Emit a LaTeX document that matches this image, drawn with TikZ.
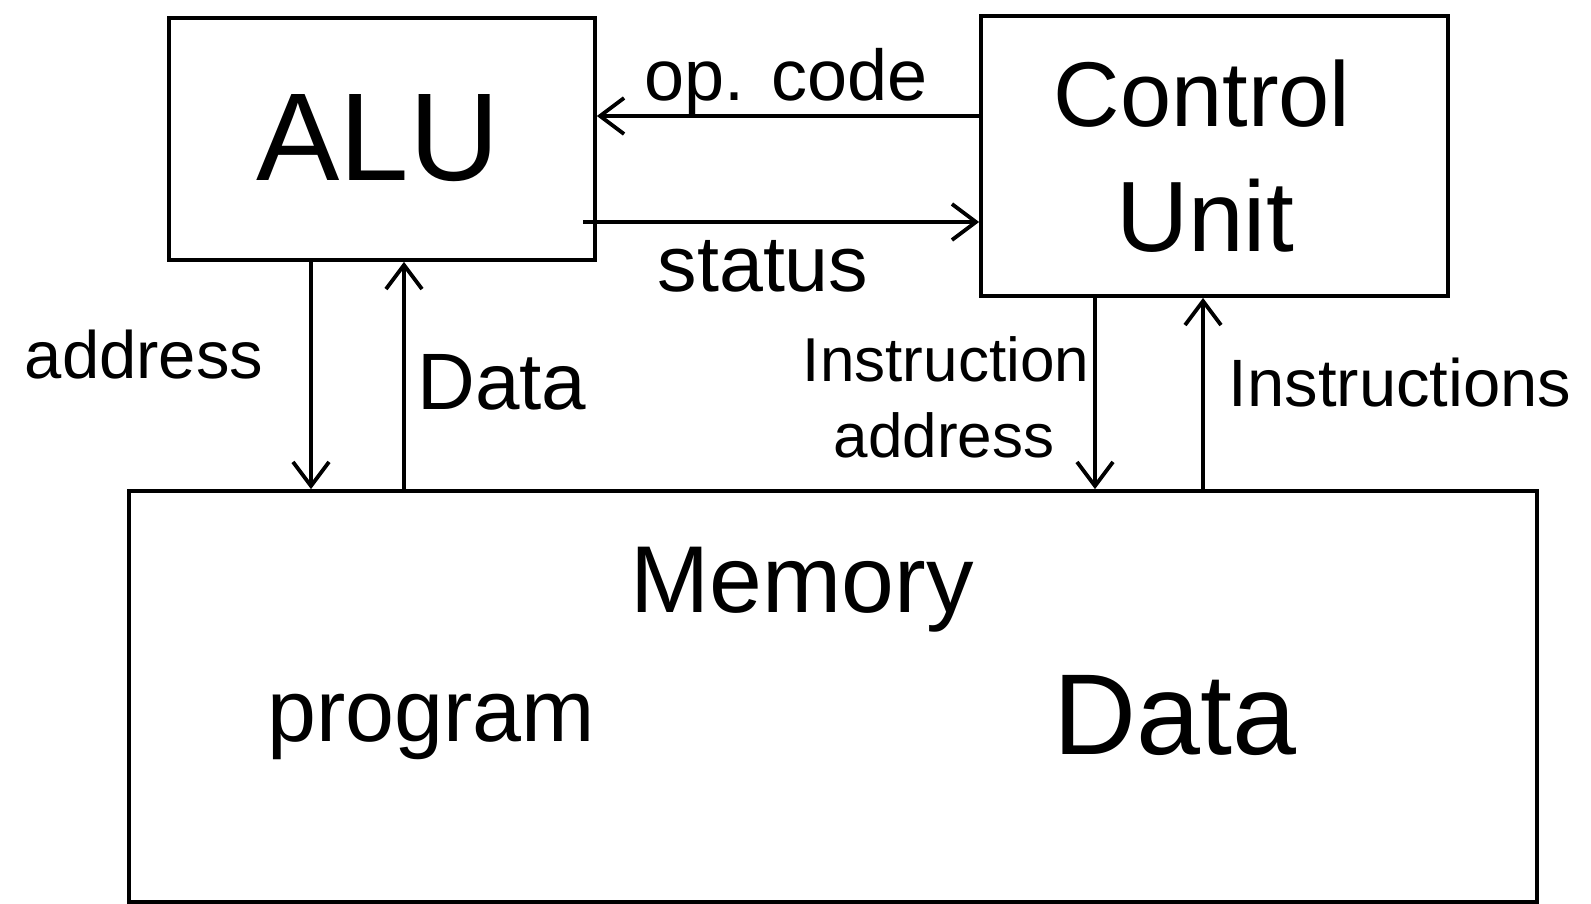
\documentclass[tikz,border=0pt]{standalone}
\usepackage{fontspec}
\setmainfont{Liberation Sans}
\usetikzlibrary{arrows.meta}
\newcommand{\fz}[1]{\fontsize{#1}{#1}\selectfont}
\begin{document}
\begin{tikzpicture}[x=1pt,y=-1pt,
  block/.style={draw,line width=3.8pt,rectangle,inner sep=0pt},
  link/.style={line width=3.8pt,-{Straight Barb[length=24pt,width=36pt,line width=3.8pt]}},
  lbl/.style={inner sep=0pt,anchor=base}]
\useasboundingbox (0,0) rectangle (1591,904);

% blocks
\node[block,minimum width=426pt,minimum height=242pt] (alu) at (382,139) {};
\node[block,minimum width=467pt,minimum height=280pt] (cu) at (1214.5,156) {};
\node[block,minimum width=1408pt,minimum height=411pt] (mem) at (833,696.5) {};

% block texts
\node[lbl] (alut) at (378,181) {\fz{125}ALU};
\node[lbl] (cut1) at (1202,127) {\fz{92}Control};
\node[lbl] (cut2) at (1205,252) {\fz{100}Unit};
\node[lbl] (memt) at (802,612) {\fz{95}Memory};
\node[lbl] (prog) at (431,741) {\fz{88}program};
\node[lbl] (mdat) at (1175,754) {\fz{115}Data};

% connector positions
\coordinate (opy) at (0,116);
\coordinate (st0) at (583,222);
\coordinate (ax) at (311,0);
\coordinate (dx) at (404,0);
\coordinate (iax) at (1095,0);
\coordinate (ix) at (1203,0);

% connectors
\draw[link] (cu.west |- opy) -- (alu.east |- opy);
\draw[link] (st0) -- (cu.west |- st0);
\draw[link] (alu.south -| ax) -- (mem.north -| ax);
\draw[link] (mem.north -| dx) -- (alu.south -| dx);
\draw[link] (cu.south -| iax) -- (mem.north -| iax);
\draw[link] (mem.north -| ix) -- (cu.south -| ix);

% connector labels
\node[lbl] (lop) at (786,101) {\fz{72}op. code};
\node[lbl] (lst) at (763,291) {\fz{79}status};
\node[lbl] (lad) at (144,378) {\fz{67}address};
\node[lbl] (lda) at (502,409) {\fz{80}Data};
\node[lbl] (lia1) at (946,381) {\fz{62}Instruction};
\node[lbl] (lia2) at (944,457) {\fz{62}address};
\node[lbl] (lin) at (1400,406) {\fz{67}Instructions};
\end{tikzpicture}
\end{document}
